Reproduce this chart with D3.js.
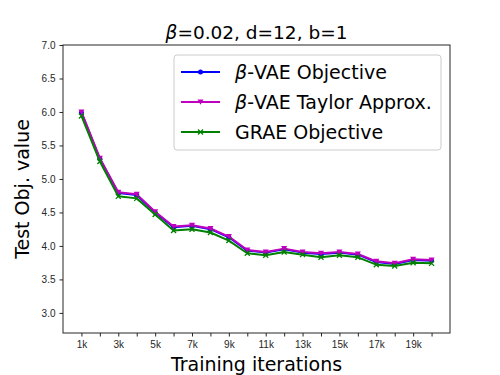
<!DOCTYPE html>
<html>
<head>
<meta charset="utf-8">
<script src="https://cdn.jsdelivr.net/npm/d3@7"></script>
<style>
  body { margin: 0; background: #fff; }
  svg { font-family: "DejaVu Sans", sans-serif; }
</style>
</head>
<body>
<svg width="500" height="375"></svg>
<script>
// iterations in thousands
var iters = [1,2,3,4,5,6,7,8,9,10,11,12,13,14,15,16,17,18,19,20];
var vaeObj    = [5.99,5.30,4.79,4.76,4.50,4.28,4.30,4.25,4.13,3.93,3.90,3.95,3.90,3.88,3.90,3.87,3.76,3.73,3.79,3.78];
var vaeTaylor = [6.00,5.31,4.80,4.77,4.51,4.29,4.31,4.26,4.14,3.94,3.91,3.96,3.91,3.89,3.91,3.88,3.77,3.74,3.80,3.79];
var graeObj   = [5.94,5.26,4.74,4.71,4.47,4.23,4.25,4.20,4.08,3.89,3.86,3.91,3.87,3.83,3.86,3.83,3.72,3.70,3.75,3.74];
var xTickLabels = ["1k","3k","5k","7k","9k","11k","13k","15k","17k","19k"];
var yTicks = [3.0,3.5,4.0,4.5,5.0,5.5,6.0,6.5,7.0];

var svg = d3.select("svg"),
    margin = {top: 45, right: 50, bottom: 42, left: 63},
    width = 500 - margin.left - margin.right,
    height = 375 - margin.top - margin.bottom,
    g = svg.append("g").attr("transform", "translate(" + margin.left + "," + margin.top + ")");

var x = d3.scaleLinear().domain([0, 21]).range([0, width]);
var y = d3.scaleLinear().domain([2.7, 7.0]).range([height, 0]);

// x axis: tick at every k, label on odd ones
var xAxis = g.append("g")
    .attr("transform", "translate(0," + height + ")")
    .call(d3.axisBottom(x).tickValues(iters).tickSizeOuter(0).tickSize(3.5).tickPadding(4)
      .tickFormat(function(d) { return d % 2 == 1 ? d + "k" : ""; }));
xAxis.selectAll("text").style("font-size", "10px").attr("fill", "#262626");

var yAxis = g.append("g")
    .call(d3.axisLeft(y).tickValues(yTicks).tickSizeOuter(0).tickSize(3.5).tickPadding(4)
      .tickFormat(d3.format(".1f")));
yAxis.selectAll("text").style("font-size", "10px").attr("fill", "#262626");

svg.selectAll(".domain").remove();
svg.selectAll(".tick line").attr("stroke", "#262626");

// frame
g.append("rect")
    .attr("width", width).attr("height", height)
    .attr("fill", "none").attr("stroke", "#262626").attr("stroke-width", 1);

var series = [
  {name: "vae", values: vaeObj, color: "#0000ff", marker: "circle"},
  {name: "taylor", values: vaeTaylor, color: "#bf00bf", marker: "tri"},
  {name: "grae", values: graeObj, color: "#008000", marker: "x"}
];

var line = d3.line()
    .x(function(d, i) { return x(iters[i]); })
    .y(function(d) { return y(d); });

function drawMarker(sel, type, color) {
  if (type == "circle") {
    sel.append("circle").attr("r", 2.5).attr("fill", color);
  } else if (type == "tri") {
    sel.append("path").attr("d", "M-3,-2.5L3,-2.5L0,2.8Z").attr("fill", color);
  } else {
    sel.append("path").attr("d", "M-2.5,-2.5L2.5,2.5M-2.5,2.5L2.5,-2.5")
      .attr("stroke", color).attr("stroke-width", 1.3);
  }
}

series.forEach(function(s) {
  g.append("path")
      .datum(s.values)
      .attr("fill", "none")
      .attr("stroke", s.color)
      .attr("stroke-width", 2)
      .attr("stroke-linejoin", "round")
      .attr("d", line);
  g.selectAll(".m-" + s.name)
      .data(s.values)
      .enter().append("g")
      .attr("class", "m-" + s.name)
      .attr("transform", function(d, i) { return "translate(" + x(iters[i]) + "," + y(d) + ")"; })
      .each(function() { drawMarker(d3.select(this), s.marker, s.color); });
});

// title
svg.append("text")
    .attr("x", margin.left + width / 2).attr("y", 39)
    .attr("text-anchor", "middle")
    .style("font-size", "18.5px").attr("fill", "#000")
    .html("<tspan font-style='italic'>β</tspan>=0.02, d=12, b=1");

// axis labels
svg.append("text")
    .attr("x", margin.left + width / 2).attr("y", 371)
    .attr("text-anchor", "middle")
    .style("font-size", "19px")
    .text("Training iterations");

svg.append("text")
    .attr("transform", "translate(29," + (margin.top + height / 2) + ") rotate(-90)")
    .attr("text-anchor", "middle")
    .style("font-size", "19px")
    .text("Test Obj. value");

// legend
var legendNames = [["β", "-VAE Objective"], ["β", "-VAE Taylor Approx."], ["", "GRAE Objective"]];
var lg = svg.append("g").attr("transform", "translate(174,55)");
lg.append("rect")
    .attr("width", 267).attr("height", 95).attr("rx", 3)
    .attr("fill", "#fff").attr("fill-opacity", 0.8)
    .attr("stroke", "#cccccc").attr("stroke-width", 1);

series.forEach(function(s, i) {
  var row = lg.append("g").attr("transform", "translate(0," + (17 + i * 30) + ")");
  row.append("line").attr("x1", 7).attr("x2", 46)
      .attr("stroke", s.color).attr("stroke-width", 2);
  drawMarker(row.append("g").attr("transform", "translate(26.5,0)"), s.marker, s.color);
  var t = row.append("text").attr("x", 61).attr("y", 7).style("font-size", "19px");
  if (legendNames[i][0]) t.append("tspan").attr("font-style", "italic").text(legendNames[i][0]);
  t.append("tspan").text(legendNames[i][1]);
});
</script>
</body>
</html>
